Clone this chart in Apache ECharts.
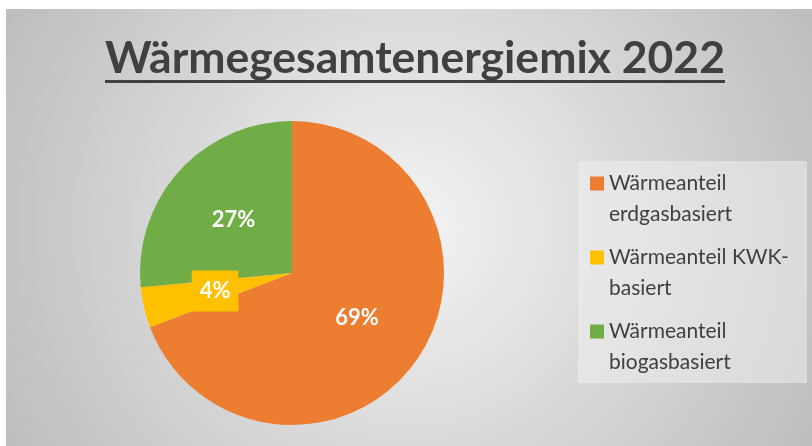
<!DOCTYPE html>
<html>
<head>
<meta charset="utf-8">
<script src="https://cdn.jsdelivr.net/npm/echarts@6/dist/echarts.min.js"></script>
<style>
  html, body { margin: 0; padding: 0; background: #fff; }
  #chart { width: 812px; height: 446px; }
</style>
</head>
<body>
<div id="chart"></div>
<script>
const titleText = "Wärmegesamtenergiemix 2022";
const categories = ["Wärmeanteil\nerdgasbasiert", "Wärmeanteil KWK-\nbasiert", "Wärmeanteil\nbiogasbasiert"];
const shares = [69.2, 4.3, 26.5];
const colors = ["#ED7D31", "#FFC000", "#70AD47"];

const font = "Lato";
const titleSize = 44.5;

// measure title so the underline matches its width
const ctx = document.createElement("canvas").getContext("2d");
ctx.font = "bold " + titleSize + "px " + font;
const titleW = ctx.measureText(titleText).width;
const titleCx = 415;

const chart = echarts.init(document.getElementById("chart"));

const option = {
  backgroundColor: "#fff",
  animation: false,
  color: colors,
  graphic: [
    {
      type: "rect",
      z: -10,
      shape: { x: 6, y: 9, width: 806, height: 437 },
      style: {
        fill: new echarts.graphic.RadialGradient(0.5, 0.5, 1.05, [
          { offset: 0, color: "#f4f4f4" },
          { offset: 1, color: "#bdbdbd" },
        ]),
      },
    },
    {
      type: "rect",
      z: -5,
      shape: { x: 578, y: 161, width: 229, height: 222 },
      style: { fill: "rgba(242,242,242,0.5)" },
    },
    {
      type: "rect",
      z: 10,
      shape: { x: titleCx - titleW / 2, y: 80, width: titleW, height: 3 },
      style: { fill: "#404040" },
    },
  ],
  title: {
    text: titleText,
    left: titleCx - titleW / 2,
    top: 34,
    padding: 0,
    textStyle: {
      fontFamily: font,
      fontWeight: "bold",
      fontSize: titleSize,
      lineHeight: 50,
      color: "#404040",
    },
  },
  legend: {
    orient: "vertical",
    left: 590,
    top: 168,
    padding: 0,
    itemGap: 12,
    itemWidth: 14,
    itemHeight: 45,
    // square sits at the top so it lines up with the first text line
    icon: "path://M0,0H14V14H0Z M0,44.99H14V45H0Z",
    textStyle: {
      fontFamily: font,
      fontSize: 21,
      lineHeight: 31,
      color: "#404040",
    },
    data: categories,
  },
  series: [
    {
      type: "pie",
      center: [292, 273],
      radius: 152,
      startAngle: 90,
      clockwise: true,
      label: {
        show: true,
        position: "inside",
        fontFamily: font,
        fontWeight: "bold",
        fontSize: 22,
        color: "#fff",
        formatter: (p) => Math.round(p.percent) + "%",
      },
      labelLine: { show: false },
      emphasis: { disabled: true },
      data: categories.map((name, i) => ({
        name: name,
        value: shares[i],
        label: i === 1 ? { backgroundColor: colors[1], padding: [10, 8, 9, 8] } : undefined,
      })),
    },
  ],
};

chart.setOption(option);
</script>
</body>
</html>
